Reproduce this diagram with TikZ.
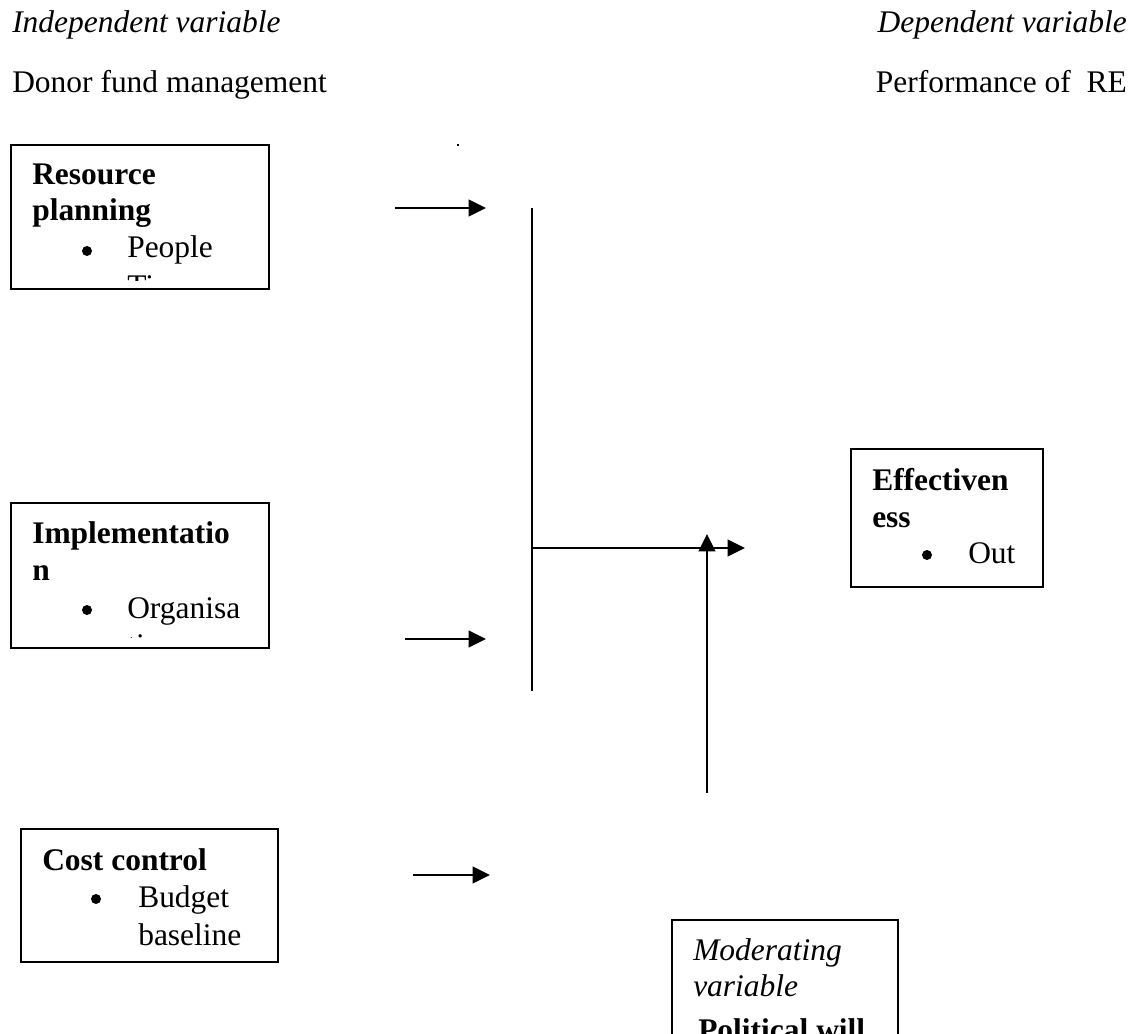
\documentclass[tikz,border=0pt]{standalone}
\usepackage{fontspec}
\setmainfont{Liberation Serif}
\usetikzlibrary{arrows.meta}
\begin{document}
\begin{tikzpicture}[x=0.75pt,y=-0.75pt,
  txt/.style={anchor=base west, inner sep=0pt, font=\fontsize{23.6}{28}\selectfont},
  btxt/.style={anchor=base west, inner sep=0pt, font=\fontsize{23.6}{28}\selectfont\bfseries},
  itxt/.style={anchor=base west, inner sep=0pt, font=\fontsize{23.6}{28}\selectfont\itshape},
  bul/.style={circle, fill, inner sep=0pt, minimum size=7.5pt},
  frame/.style={draw, line width=1.7pt, inner sep=0pt},
  conn/.style={line width=1.7pt},
  arr/.style={conn, -{Triangle[length=13pt,width=12.5pt]}},
]
\useasboundingbox (0,0) rectangle (1136,1034);

% headers
\node[itxt] (indep) at (12,33) {Independent variable};
\node[itxt, anchor=base east] (dep) at (1127,33) {Dependent variable};
\node[txt] (donor) at (12,93) {Donor fund management};
\node[txt, anchor=base east] (perf) at (1127,93) {Performance of\ \ RE};
\node[fill, inner sep=0pt, minimum size=1.5pt] (dot) at (458,145) {};

% box 1
\node[frame, minimum width=193.5pt, minimum height=108pt] (rp) at (140,217) {};
\node[btxt] (rp1) at (32,185) {Resource};
\node[btxt] (rp2) at (32,221) {planning};
\node[bul] (rpb) at (87,251) {};
\node[txt] (rp3) at (127,258) {People};
\begin{scope}
  \clip (12,146) rectangle (268,281);
  \node[txt] (rp4) at (127,297) {Time};
\end{scope}

% box 2
\node[frame, minimum width=193.5pt, minimum height=108.75pt] (im) at (140,575.5) {};
\node[btxt] (im1) at (32,543) {Implementatio};
\node[btxt] (im2) at (32,580) {n};
\node[bul] (imb) at (87,610) {};
\node[txt] (im3) at (127,618) {Organisa};
\begin{scope}
  \clip (12,504) rectangle (268,637);
  \node[txt] (im4) at (127,655) {tion};
\end{scope}

% box 3
\node[frame, minimum width=144pt, minimum height=103.5pt] (ef) at (947,518) {};
\node[btxt] (ef1) at (872,490) {Effectiven};
\node[btxt] (ef2) at (872,527) {ess};
\node[bul] (efb) at (927,555) {};
\node[txt] (ef3) at (968,563) {Out};

% box 4
\node[frame, minimum width=192.75pt, minimum height=99.75pt] (cc) at (149.5,895.5) {};
\node[btxt] (cc1) at (42,870) {Cost control};
\node[bul] (ccb) at (96,899) {};
\node[txt] (cc2) at (138,907) {Budget};
\node[txt] (cc3) at (138,945) {baseline};

% box 5
\node[frame, minimum width=169.5pt, minimum height=105pt] (mv) at (785,990) {};
\node[itxt] (mv1) at (693,960) {Moderating};
\node[itxt] (mv2) at (693,996) {variable};
\node[btxt] (mv3) at (698,1040) {Political will};

% connectors
\coordinate (a1s) at (395,208); \coordinate (a1e) at (486,208);
\coordinate (a2s) at (405,639); \coordinate (a2e) at (486,639);
\coordinate (a3s) at (413,875); \coordinate (a3e) at (490,875);
\coordinate (vt) at (532,208); \coordinate (vb) at (532,691);
\coordinate (hs) at (532,548); \coordinate (he) at (745,548);
\coordinate (us) at (707,793); \coordinate (ue) at (707,534);

\draw[arr] (a1s) -- (a1e);
\draw[arr] (a2s) -- (a2e);
\draw[arr] (a3s) -- (a3e);
\draw[conn] (vt) -- (vb);
\draw[arr] (hs) -- (he);
\draw[arr] (us) -- (ue);
\end{tikzpicture}
\end{document}
